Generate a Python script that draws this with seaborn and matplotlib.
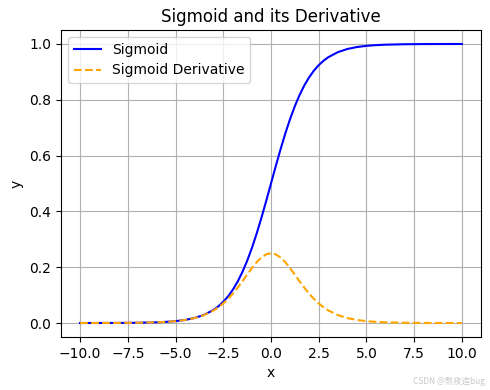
import numpy as np
import pandas as pd
import matplotlib
matplotlib.use('Agg')
import matplotlib.pyplot as plt
import seaborn as sns

# values
x_vals = [-10, -9, -8, -7, -6, -5.5, -5, -4.5, -4, -3.5, -3, -2.75, -2.5, -2.25,
          -2, -1.75, -1.5, -1.25, -1, -0.75, -0.5, -0.25, 0,
          0.25, 0.5, 0.75, 1, 1.25, 1.5, 1.75, 2, 2.25, 2.5, 2.75, 3,
          3.5, 4, 4.5, 5, 5.5, 6, 7, 8, 9, 10]
sigmoid_vals = [0.0000, 0.0001, 0.0003, 0.0009, 0.0025, 0.0041, 0.0067, 0.0110, 0.0180,
                0.0293, 0.0474, 0.0601, 0.0759, 0.0953, 0.1192, 0.1480, 0.1824, 0.2227,
                0.2689, 0.3208, 0.3775, 0.4378, 0.5000,
                0.5622, 0.6225, 0.6792, 0.7311, 0.7773, 0.8176, 0.8520, 0.8808, 0.9047,
                0.9241, 0.9399, 0.9526, 0.9707, 0.9820, 0.9890, 0.9933, 0.9959, 0.9975,
                0.9991, 0.9997, 0.9999, 1.0000]
deriv_vals = [0.0000, 0.0001, 0.0003, 0.0009, 0.0025, 0.0041, 0.0066, 0.0109, 0.0177,
              0.0285, 0.0452, 0.0565, 0.0701, 0.0862, 0.1050, 0.1261, 0.1491, 0.1731,
              0.1966, 0.2179, 0.2350, 0.2461, 0.2500,
              0.2461, 0.2350, 0.2179, 0.1966, 0.1731, 0.1491, 0.1261, 0.1050, 0.0862,
              0.0701, 0.0565, 0.0452, 0.0285, 0.0177, 0.0109, 0.0066, 0.0041, 0.0025,
              0.0009, 0.0003, 0.0001, 0.0000]

df = pd.DataFrame({'x': x_vals, 'sigmoid': sigmoid_vals, 'deriv': deriv_vals})

fig, ax = plt.subplots(figsize=(4.9, 3.9), dpi=100)
sns.lineplot(data=df, x='x', y='sigmoid', ax=ax, color='blue', label='Sigmoid')
sns.lineplot(data=df, x='x', y='deriv', ax=ax, color='orange', linestyle='--',
             label='Sigmoid Derivative')
ax.set_title('Sigmoid and its Derivative')
ax.set_xlabel('x')
ax.set_ylabel('y')
ax.set_xticks(np.arange(-10, 10.1, 2.5))
ax.grid(True)
ax.legend(loc='upper left')

fig.text(0.99, 0.01, 'CSDN @熬夜造bug', ha='right', va='bottom', fontsize=6,
         color='#c8c8c8', family=['Noto Sans CJK SC', 'DejaVu Sans'])

plt.subplots_adjust(left=0.1245, right=0.9816, top=0.923, bottom=0.136)
fig.savefig('out.png', dpi=100)
